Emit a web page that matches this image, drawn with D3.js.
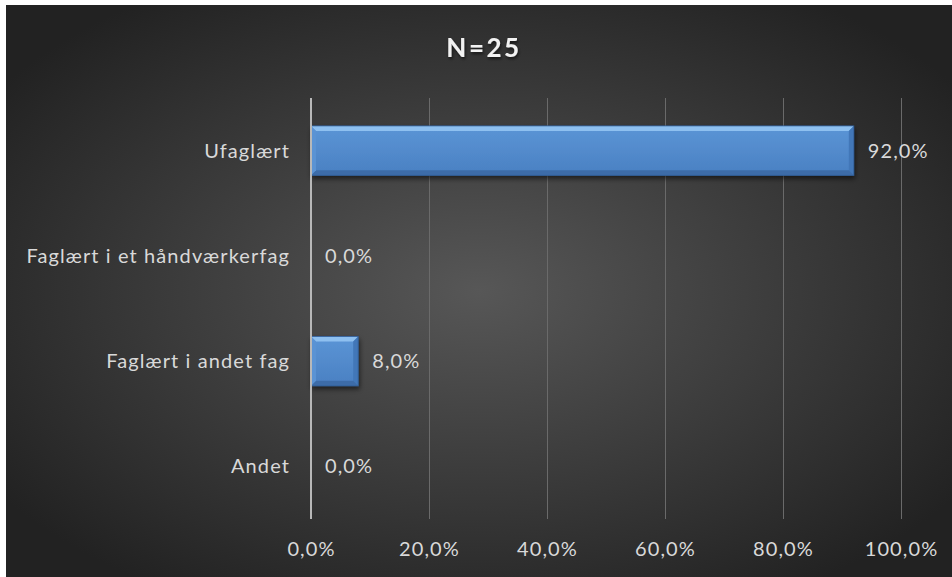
<!DOCTYPE html>
<html>
<head>
<meta charset="utf-8">
<script src="https://cdn.jsdelivr.net/npm/d3@7/dist/d3.min.js"></script>
<style>
  html, body { margin: 0; padding: 0; background: #ffffff; }
  svg { display: block; }
  text { font-family: Lato, "Open Sans", sans-serif; }
</style>
</head>
<body>
<svg id="chart" width="952" height="577"></svg>
<script>
// Education level of respondents, share of N=25
const categories = ["Ufaglært", "Faglært i et håndværkerfag", "Faglært i andet fag", "Andet"];
const values = [92.0, 0.0, 8.0, 0.0];
const tickValues = [0, 20, 40, 60, 80, 100];
const title = "N=25";

const W = 952, H = 577;
const margin = { left: 311, right: 51, top: 98, bottom: 58 };
const labelColor = "#d9d9d9";
const fontSize = 20, letterSp = 1.1;

const svg = d3.select("#chart");
const defs = svg.append("defs");

// Dark radial backdrop
const bg = defs.append("radialGradient").attr("id", "bgGrad")
  .attr("cx", "0.5").attr("cy", "0.5").attr("r", "0.62");
bg.append("stop").attr("offset", "0").attr("stop-color", "#575757");
bg.append("stop").attr("offset", "1").attr("stop-color", "#222222");

// Bar fill
const barGrad = defs.append("linearGradient").attr("id", "barGrad")
  .attr("x1", 0).attr("y1", 0).attr("x2", 0).attr("y2", 1);
barGrad.append("stop").attr("offset", "0").attr("stop-color", "#5b95d6");
barGrad.append("stop").attr("offset", "1").attr("stop-color", "#4a80c2");

const shadow = defs.append("filter").attr("id", "barShadow")
  .attr("x", "-10%").attr("y", "-20%").attr("width", "130%").attr("height", "160%");
shadow.append("feDropShadow").attr("dx", 1).attr("dy", 3).attr("stdDeviation", 2.5)
  .attr("flood-color", "#000").attr("flood-opacity", 0.55);

const titleShadow = defs.append("filter").attr("id", "titleShadow");
titleShadow.append("feDropShadow").attr("dx", 1).attr("dy", 2).attr("stdDeviation", 1.5)
  .attr("flood-color", "#000").attr("flood-opacity", 0.6);

svg.append("rect").attr("x", 6).attr("y", 5).attr("width", W - 6).attr("height", H - 5)
  .attr("fill", "url(#bgGrad)");

const x = d3.scaleLinear().domain([0, 100]).range([margin.left, W - margin.right]);
const y = d3.scaleBand().domain(categories).range([margin.top, H - margin.bottom]).paddingInner(0.53).paddingOuter(0.265);

// Vertical gridlines
svg.append("g").selectAll("line").data(tickValues.slice(1)).join("line")
  .attr("x1", d => x(d)).attr("x2", d => x(d))
  .attr("y1", margin.top).attr("y2", H - margin.bottom)
  .attr("stroke", "#6a6a6a").attr("stroke-width", 1).attr("shape-rendering", "crispEdges");

// Tick labels along the bottom
const xAxis = d3.axisBottom(x).tickValues(tickValues).tickSize(0).tickPadding(0)
  .tickFormat(d => d.toFixed(1).replace(".", ",") + "%");
const gx = svg.append("g").attr("transform", `translate(0,${H - margin.bottom + 37})`).call(xAxis);
gx.select(".domain").remove();
gx.selectAll("text").attr("fill", labelColor).attr("font-size", fontSize)
  .attr("letter-spacing", letterSp).attr("font-family", "Lato, sans-serif").attr("dy", "0");

// Bars with bevel
const bev = 5;
const bars = svg.append("g").selectAll("g").data(categories.map((c, i) => ({ c, v: values[i] })).filter(d => d.v > 0)).join("g")
  .attr("filter", "url(#barShadow)");
bars.each(function(d) {
  const g = d3.select(this);
  const x0 = x(0), x1 = x(d.v), y0 = y(d.c), y1 = y(d.c) + y.bandwidth();
  g.append("rect").attr("x", x0).attr("y", y0).attr("width", x1 - x0).attr("height", y1 - y0)
    .attr("fill", "url(#barGrad)");
  // top bevel
  g.append("polygon").attr("points", [[x0, y0], [x1, y0], [x1 - bev, y0 + bev], [x0 + bev, y0 + bev]].join(" "))
    .attr("fill", "#8ec0f0");
  // right bevel
  g.append("polygon").attr("points", [[x1, y0], [x1, y1], [x1 - bev, y1 - bev], [x1 - bev, y0 + bev]].join(" "))
    .attr("fill", "#4277b8");
  // bottom bevel
  g.append("polygon").attr("points", [[x0, y1], [x1, y1], [x1 - bev, y1 - bev], [x0 + bev, y1 - bev]].join(" "))
    .attr("fill", "#3c6ca8");
  // left bevel
  g.append("polygon").attr("points", [[x0, y0], [x0 + bev, y0 + bev], [x0 + bev, y1 - bev], [x0, y1]].join(" "))
    .attr("fill", "#5a93d4");
  g.append("rect").attr("x", x0).attr("y", y0).attr("width", x1 - x0).attr("height", y1 - y0)
    .attr("fill", "none").attr("stroke", "#2f5d95").attr("stroke-width", 0.8);
});

// Value axis baseline
svg.append("line").attr("x1", x(0)).attr("x2", x(0))
  .attr("y1", margin.top).attr("y2", H - margin.bottom)
  .attr("stroke", "#b8b8b8").attr("stroke-width", 2);

// Category labels
svg.append("g").selectAll("text").data(categories).join("text")
  .attr("x", x(0) - 21).attr("y", d => y(d) + y.bandwidth() / 2)
  .attr("dy", "0.35em").attr("text-anchor", "end").attr("letter-spacing", letterSp)
  .attr("fill", labelColor).attr("font-size", fontSize).text(d => d);

// Value labels
svg.append("g").selectAll("text").data(categories.map((c, i) => ({ c, v: values[i] }))).join("text")
  .attr("x", d => x(d.v) + 14).attr("y", d => y(d.c) + y.bandwidth() / 2)
  .attr("dy", "0.35em").attr("fill", labelColor).attr("font-size", fontSize).attr("letter-spacing", letterSp)
  .text(d => d.v.toFixed(1).replace(".", ",") + "%");

// Title
svg.append("text").attr("x", 484).attr("y", 57).attr("text-anchor", "middle")
  .attr("fill", "#f2f2f2").attr("font-size", 26).attr("font-weight", "bold")
  .attr("letter-spacing", 2.5).attr("filter", "url(#titleShadow)").text(title);
</script>
</body>
</html>
